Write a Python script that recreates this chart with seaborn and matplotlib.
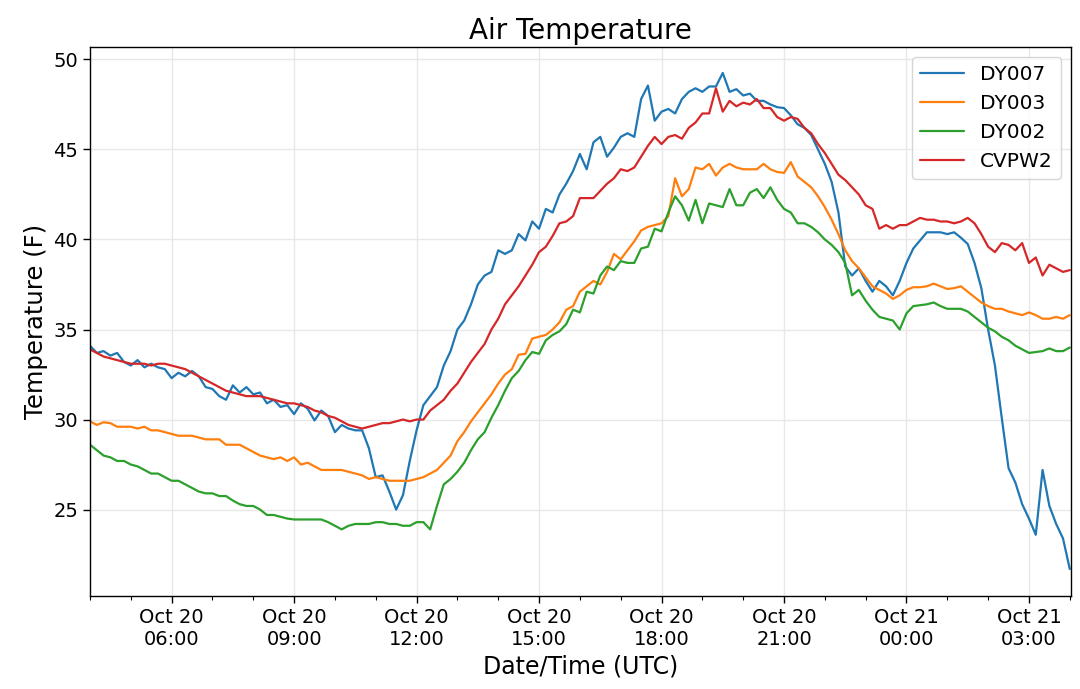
import numpy as np
import pandas as pd
import matplotlib
matplotlib.use("Agg")
import matplotlib.pyplot as plt
import matplotlib.dates as mdates
import seaborn as sns

# 10-minute readings, Oct 20 04:00 UTC -> Oct 21 04:00 UTC
times = pd.date_range("2019-10-20 04:00", "2019-10-21 04:00", freq="10min")

dy007 = [34.1, 33.7, 33.8, 33.55, 33.7, 33.2, 33.0, 33.3, 32.9, 33.1,
         32.9, 32.8, 32.3, 32.6, 32.4, 32.7, 32.4, 31.8, 31.7, 31.3,
         31.1, 31.9, 31.5, 31.8, 31.4, 31.5, 30.9, 31.1, 30.7, 30.8,
         30.3, 30.9, 30.6, 29.95, 30.5, 30.2, 29.3, 29.7, 29.5, 29.4,
         29.4, 28.4, 26.8, 26.9, 26.0, 25.0, 25.8, 27.7, 29.4, 30.8,
         31.3, 31.8, 33.0, 33.8, 35.0, 35.5, 36.4, 37.5, 38.0, 38.2,
         39.4, 39.2, 39.4, 40.3, 39.95, 41.0, 40.6, 41.7, 41.5, 42.5,
         43.1, 43.8, 44.75, 43.9, 45.4, 45.7, 44.6, 45.1, 45.7, 45.9,
         45.7, 47.8, 48.55, 46.6, 47.1, 47.25, 47.0, 47.8, 48.2, 48.4,
         48.2, 48.5, 48.5, 49.25, 48.2, 48.35, 48.0, 48.1, 47.7, 47.7,
         47.5, 47.35, 47.3, 46.9, 46.4, 46.2, 45.8, 45.0, 44.2, 43.2,
         41.5, 38.5, 38.0, 38.4, 37.7, 37.1, 37.7, 37.4, 36.9, 37.7,
         38.7, 39.5, 39.95, 40.4, 40.4, 40.4, 40.3, 40.4, 40.1, 39.75,
         38.7, 37.3, 35.0, 33.0, 30.1, 27.3, 26.5, 25.3, 24.5, 23.6,
         27.2, 25.2, 24.2, 23.4, 21.7]

dy003 = [29.9, 29.7, 29.85, 29.8, 29.6, 29.6, 29.6, 29.5, 29.6, 29.4,
         29.4, 29.3, 29.2, 29.1, 29.1, 29.1, 29.0, 28.9, 28.9, 28.9,
         28.6, 28.6, 28.6, 28.4, 28.2, 28.0, 27.9, 27.8, 27.9, 27.7,
         27.9, 27.5, 27.6, 27.4, 27.2, 27.2, 27.2, 27.2, 27.1, 27.0,
         26.9, 26.7, 26.8, 26.7, 26.6, 26.6, 26.6, 26.6, 26.7, 26.8,
         27.0, 27.2, 27.6, 28.0, 28.8, 29.3, 29.9, 30.4, 30.9, 31.4,
         32.0, 32.5, 32.8, 33.6, 33.65, 34.5, 34.6, 34.7, 35.0, 35.4,
         36.1, 36.3, 37.1, 37.4, 37.7, 37.5, 38.2, 39.2, 38.9, 39.4,
         39.9, 40.5, 40.7, 40.8, 40.9, 41.3, 43.4, 42.4, 42.8, 44.0,
         43.9, 44.2, 43.55, 44.0, 44.2, 44.0, 43.9, 43.9, 43.9, 44.2,
         43.9, 43.75, 43.7, 44.3, 43.5, 43.2, 42.9, 42.4, 41.8, 41.1,
         40.3, 39.4, 38.8, 38.4, 37.9, 37.4, 37.2, 37.0, 36.7, 36.9,
         37.2, 37.35, 37.35, 37.4, 37.55, 37.4, 37.25, 37.3, 37.4, 37.1,
         36.8, 36.5, 36.3, 36.15, 36.15, 36.0, 35.9, 35.8, 35.95, 35.8,
         35.6, 35.6, 35.7, 35.6, 35.8]

dy002 = [28.6, 28.3, 28.0, 27.9, 27.7, 27.7, 27.5, 27.4, 27.2, 27.0,
         27.0, 26.8, 26.6, 26.6, 26.4, 26.2, 26.0, 25.9, 25.9, 25.75,
         25.75, 25.5, 25.3, 25.2, 25.2, 25.0, 24.7, 24.7, 24.6, 24.5,
         24.45, 24.45, 24.45, 24.45, 24.45, 24.3, 24.1, 23.9, 24.1, 24.2,
         24.2, 24.2, 24.3, 24.3, 24.2, 24.2, 24.1, 24.1, 24.3, 24.3,
         23.9, 25.2, 26.4, 26.7, 27.1, 27.6, 28.3, 28.9, 29.3, 30.1,
         30.8, 31.6, 32.3, 32.7, 33.3, 33.75, 33.65, 34.4, 34.7, 34.9,
         35.3, 36.1, 35.95, 37.1, 37.0, 38.0, 38.5, 38.3, 38.8, 38.7,
         38.7, 39.5, 39.6, 40.6, 40.45, 41.5, 42.4, 41.9, 41.05, 42.2,
         40.9, 42.0, 41.9, 41.8, 42.8, 41.9, 41.9, 42.6, 42.8, 42.3,
         42.9, 42.2, 41.7, 41.5, 40.9, 40.9, 40.7, 40.4, 40.0, 39.7,
         39.3, 38.7, 36.9, 37.2, 36.6, 36.1, 35.7, 35.6, 35.5, 35.0,
         35.9, 36.3, 36.35, 36.4, 36.5, 36.3, 36.15, 36.15, 36.15, 36.0,
         35.7, 35.4, 35.1, 34.9, 34.6, 34.4, 34.1, 33.9, 33.7, 33.75,
         33.8, 33.95, 33.8, 33.8, 34.0]

cvpw2 = [33.9, 33.7, 33.5, 33.4, 33.3, 33.2, 33.1, 33.1, 33.1, 33.0,
         33.1, 33.1, 33.0, 32.9, 32.8, 32.6, 32.4, 32.2, 32.0, 31.8,
         31.6, 31.5, 31.4, 31.3, 31.3, 31.3, 31.2, 31.1, 31.0, 30.9,
         30.9, 30.8, 30.7, 30.5, 30.4, 30.2, 30.1, 29.9, 29.7, 29.6,
         29.5, 29.6, 29.7, 29.8, 29.8, 29.9, 30.0, 29.9, 30.0, 30.0,
         30.5, 30.8, 31.1, 31.6, 32.0, 32.6, 33.2, 33.7, 34.2, 35.0,
         35.6, 36.4, 36.9, 37.4, 38.0, 38.6, 39.3, 39.6, 40.2, 40.9,
         41.0, 41.3, 42.3, 42.3, 42.3, 42.7, 43.1, 43.4, 43.9, 43.8,
         44.0, 44.6, 45.2, 45.7, 45.3, 45.7, 45.8, 45.6, 46.2, 46.5,
         47.0, 47.0, 48.4, 47.1, 47.7, 47.4, 47.6, 47.5, 47.8, 47.3,
         47.3, 46.8, 46.6, 46.8, 46.7, 46.2, 45.9, 45.3, 44.8, 44.2,
         43.6, 43.3, 42.9, 42.5, 41.9, 41.7, 40.6, 40.8, 40.6, 40.8,
         40.8, 41.0, 41.2, 41.1, 41.1, 41.0, 41.0, 40.9, 41.0, 41.2,
         40.9, 40.3, 39.6, 39.3, 39.8, 39.7, 39.4, 39.8, 38.7, 39.0,
         38.0, 38.6, 38.4, 38.2, 38.3]

stations = ["DY007", "DY003", "DY002", "CVPW2"]
series = [dy007, dy003, dy002, cvpw2]

df = pd.concat(
    [pd.DataFrame({"time": times, "temp": vals, "station": name})
     for name, vals in zip(stations, series)],
    ignore_index=True,
)

sns.set_style("white", rc={"text.color": "black", "axes.labelcolor": "black",
                           "xtick.color": "black", "ytick.color": "black",
                           "axes.edgecolor": "black"})
plt.rcParams["font.family"] = ["DejaVu Sans"]

fig = plt.figure(figsize=(10.8, 6.89), dpi=100)
ax = fig.add_axes([0.0833, 0.135, 0.9085, 0.797])

colors = ["#1f77b4", "#ff7f0e", "#2ca02c", "#d62728"]
sns.lineplot(data=df, x="time", y="temp", hue="station", hue_order=stations,
             palette=colors, linewidth=1.6, ax=ax)

ax.set_xlim(pd.Timestamp("2019-10-20 04:00"), pd.Timestamp("2019-10-21 04:02"))
ax.set_ylim(20.2, 50.7)
ax.set_yticks([25, 30, 35, 40, 45, 50])

ax.xaxis.set_major_locator(mdates.HourLocator(byhour=[0, 3, 6, 9, 12, 15, 18, 21]))
ax.xaxis.set_minor_locator(mdates.HourLocator())
ax.xaxis.set_major_formatter(mdates.DateFormatter("%b %d\n%H:%M"))

ax.grid(True, which="major", color="#e8e8e8", linewidth=1.0)
ax.tick_params(axis="both", which="major", labelsize=14, length=5, width=1, direction="out",
               bottom=True, left=True)
ax.tick_params(axis="x", which="minor", length=3, width=0.8, bottom=True)
for s in ax.spines.values():
    s.set_linewidth(1.0)

ax.set_title("Air Temperature", fontsize=20)
ax.set_xlabel("Date/Time (UTC)", fontsize=17)
ax.set_ylabel("Temperature (F)", fontsize=17.5)

ax.legend(loc="upper right", fontsize=14.5, frameon=True, handlelength=2.2)

fig.savefig("out.png", dpi=100)
